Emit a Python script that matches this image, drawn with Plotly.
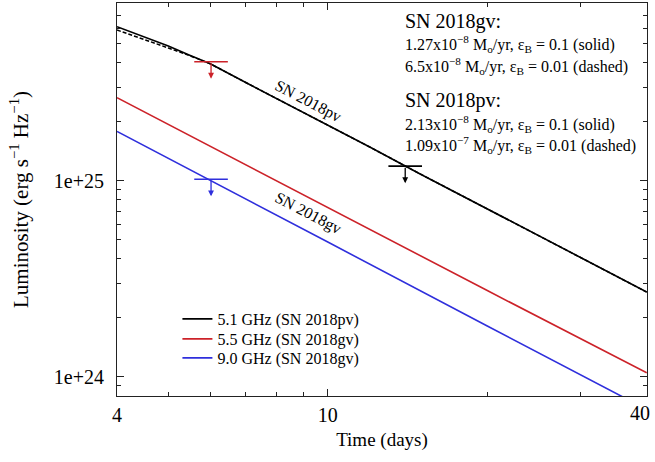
import numpy as np
import plotly.graph_objects as go

# ---- data ----
days_pv = [4.0, 4.5, 5.0, 5.5, 6.0, 7.0, 8.0, 10.0, 12.0, 15.0, 20.0, 25.0, 30.0, 40.0]
lum_pv_solid = [6.12e25, 5.42e25, 4.88e25, 4.37e25, 3.96e25, 3.18e25, 2.64e25, 1.92e25,
                1.49e25, 1.08e25, 7.23e24, 5.27e24, 4.07e24, 2.71e24]
lum_pv_dashed = [5.89e25, 5.29e25, 4.77e25, 4.35e25, 3.96e25, 3.18e25, 2.64e25, 1.92e25,
                 1.49e25, 1.08e25, 7.23e24, 5.27e24, 4.07e24, 2.71e24]

days_gv = [4.0, 6.0, 10.0, 20.0, 40.0]
lum_gv_55 = [2.66e25, 1.50e25, 7.33e24, 2.76e24, 1.05e24]
lum_gv_90 = [1.79e25, 1.01e25, 4.88e24, 1.82e24, 6.83e23]

# upper limits
lim_days = [6.02, 6.02, 14.0]
lim_lum = [4.06e25, 1.02e25, 1.19e25]
lim_colors = ["#cc2229", "#2f2fdc", "#000000"]

legend_names = ["5.1 GHz (SN 2018pv)", "5.5 GHz (SN 2018gv)", "9.0 GHz (SN 2018gv)"]
x_ticks = [4, 10, 40]
x_ticktext = ["4", "10", ""]
x_last_label = "40"
x_minor = [5, 6, 7, 8, 9, 20, 30]
y_ticks = [1e24, 1e25]
y_ticktext = ["1e+24", "1e+25"]
y_minor = [9e23, 2e24, 3e24, 4e24, 5e24, 6e24, 7e24, 8e24, 9e24,
           2e25, 3e25, 4e25, 5e25, 6e25, 7e25, 8e25]

FONT = "Liberation Serif"
BLACK, RED, BLUE = "#000000", "#cc2229", "#2f2fdc"

fig = go.Figure()
fig.add_trace(go.Scatter(x=days_pv, y=lum_pv_dashed, mode="lines",
                         line=dict(color=BLACK, width=1.5, dash="4px,2px"),
                         showlegend=False, hoverinfo="skip"))
fig.add_trace(go.Scatter(x=days_pv, y=lum_pv_solid, mode="lines",
                         line=dict(color=BLACK, width=1.6), name=legend_names[0],
                         legend="legend"))
fig.add_trace(go.Scatter(x=days_gv, y=lum_gv_55, mode="lines",
                         line=dict(color=RED, width=1.6), name=legend_names[1],
                         legend="legend2"))
fig.add_trace(go.Scatter(x=days_gv, y=lum_gv_90, mode="lines",
                         line=dict(color=BLUE, width=1.6), name=legend_names[2],
                         legend="legend3"))

for d, l, c in zip(lim_days, lim_lum, lim_colors):
    fig.add_trace(go.Scatter(x=[d], y=[l], mode="markers", showlegend=False,
                             marker=dict(symbol="line-ew", size=24,
                                         line=dict(color=c, width=1.6)),
                             hoverinfo="skip"))
    fig.add_annotation(x=np.log10(d), y=np.log10(l), xref="x", yref="y",
                       text="", showarrow=True, ax=0, ay=-17, yshift=-17,
                       arrowhead=2, arrowsize=0.9, arrowwidth=1.3, arrowcolor=c)

# line labels
for txt, yy in [("SN 2018pv", 0.751), ("SN 2018gv", 0.466)]:
    fig.add_annotation(text=txt, xref="paper", yref="paper", x=0.360, y=yy,
                       xanchor="center", yanchor="middle",
                       showarrow=False, textangle=27.5,
                       font=dict(family=FONT, size=16, color="black"))

# last x tick label, pulled inside the page
fig.add_annotation(text=x_last_label, xref="paper", yref="paper", x=1.0, y=0.0,
                   xanchor="right", yanchor="top", xshift=5, yshift=-4,
                   showarrow=False, font=dict(family=FONT, size=20, color="black"))

# parameter text
info = [
    ("SN 2018gv:", 0.954, 20),
    ("1.27x10<sup>−8</sup> M<sub>o</sub>/yr, ε<sub>B</sub> = 0.1 (solid)", 0.896, 16),
    ("6.5x10<sup>−8</sup> M<sub>o</sub>/yr, ε<sub>B</sub> = 0.01 (dashed)", 0.840, 16),
    ("SN 2018pv:", 0.753, 20),
    ("2.13x10<sup>−8</sup> M<sub>o</sub>/yr, ε<sub>B</sub> = 0.1 (solid)", 0.692, 16),
    ("1.09x10<sup>−7</sup> M<sub>o</sub>/yr, ε<sub>B</sub> = 0.01 (dashed)", 0.639, 16),
]
for txt, yy, fs in info:
    fig.add_annotation(text=txt, xref="paper", yref="paper", x=0.540, y=yy,
                       xanchor="left", yanchor="middle", showarrow=False,
                       font=dict(family=FONT, size=fs, color="black"))

axis_common = dict(type="log", showgrid=False, zeroline=False, showline=True,
                   linecolor="#222", linewidth=1, mirror="allticks", ticks="inside",
                   ticklen=7, tickwidth=1, tickcolor="#222", automargin=False,
                   tickfont=dict(family=FONT, size=20, color="black"))

leg_common = dict(xanchor="left", yanchor="middle", bgcolor="rgba(0,0,0,0)",
                  font=dict(family=FONT, size=16, color="black"))

fig.update_layout(
    width=655, height=462,
    margin=dict(l=117, r=8, t=3, b=66),
    paper_bgcolor="white", plot_bgcolor="white",
    font=dict(family=FONT, color="black"),
    xaxis=dict(**axis_common, range=[np.log10(4), np.log10(40) + 0.0005],
               tickmode="array", tickvals=x_ticks, ticktext=x_ticktext,
               ticklabelstandoff=1,
               minor=dict(tickmode="array", tickvals=x_minor, ticks="inside", ticklen=4,
                          tickcolor="#222"),
               title=dict(text="Time (days)", font=dict(family=FONT, size=19), standoff=7)),
    yaxis=dict(**axis_common, range=[23.903, 25.908],
               tickmode="array", tickvals=y_ticks, ticktext=y_ticktext,
               ticklabelstandoff=8,
               minor=dict(tickmode="array", tickvals=y_minor, ticks="inside", ticklen=4,
                          tickcolor="#222"),
               title=dict(text="Luminosity (erg s<sup>−1</sup> Hz<sup>−1</sup>)",
                          font=dict(family=FONT, size=21), standoff=19)),
    legend=dict(x=0.114, y=0.196, **leg_common),
    legend2=dict(x=0.114, y=0.145, **leg_common),
    legend3=dict(x=0.114, y=0.0967, **leg_common),
)

fig.write_html("out.html", config={"displayModeBar": False},
               post_script="document.body.style.margin='0px';"
                           "document.body.style.overflow='hidden';")
